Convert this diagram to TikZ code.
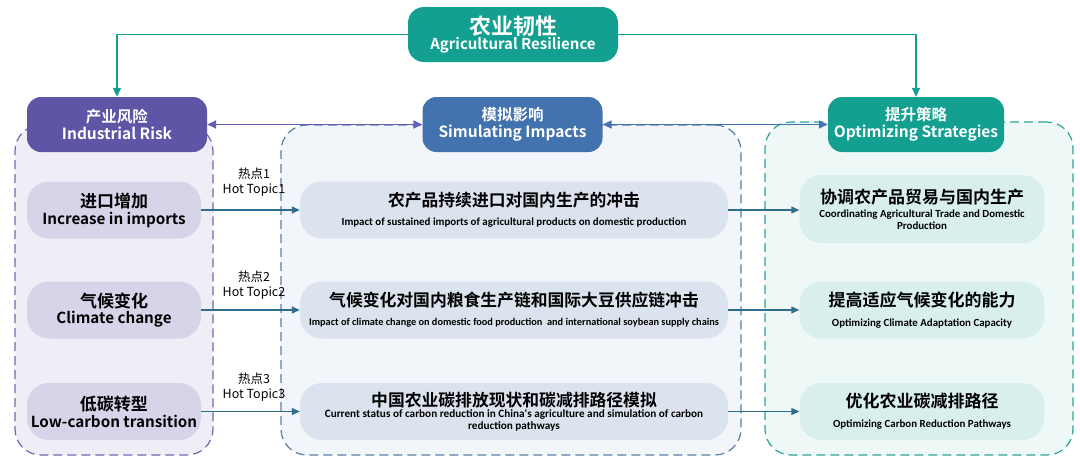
\documentclass[tikz,border=0pt]{standalone}
\usepackage{fontspec}
\setmainfont{Noto Sans CJK SC}
\newfontfamily\cjkb{Noto Sans CJK SC}[BoldFont={* Bold}]
\newfontfamily\latb{Carlito}
\usetikzlibrary{arrows.meta}
\definecolor{teal1}{HTML}{14A090}
\definecolor{purp}{HTML}{5D56A6}
\definecolor{blueh}{HTML}{4373AE}
\definecolor{rowc}{HTML}{2F6D8F}
\definecolor{lfill}{HTML}{EFEEF6}
\definecolor{mfill}{HTML}{F2F5F9}
\definecolor{rfill}{HTML}{EEF8F7}
\definecolor{ldash}{HTML}{6E69AE}
\definecolor{mdash}{HTML}{5A7FA8}
\definecolor{rdash}{HTML}{2AA597}
\definecolor{litem}{HTML}{D6D4E9}
\definecolor{mitem}{HTML}{DBE4EE}
\definecolor{ritem}{HTML}{D9EFEE}
\tikzset{
  hdr/.style={rectangle, rounded corners=14pt, minimum width=180pt, minimum height=55pt, text=white, align=center, inner sep=2pt},
  cont/.style={rectangle, rounded corners=26pt, dashed, dash pattern=on 9pt off 5pt, line width=1.2pt},
  item/.style={rectangle, rounded corners=22pt, minimum height=57pt, align=center, inner sep=2pt},
  rowarr/.style={draw=rowc, line width=1.1pt, -{Triangle[length=8pt,width=7pt]}},
  toparr/.style={draw=teal1, line width=1.5pt, -{Triangle[length=9pt,width=8pt]}},
  dbl/.style={line width=1.5pt, {Triangle[length=9pt,width=8pt]}-{Triangle[length=9pt,width=8pt]}},
  hot/.style={align=center, font=\fontsize{12.5}{15.5}\selectfont, inner sep=0pt}
}
\begin{document}
\begin{tikzpicture}[x=1pt,y=-1pt]
\useasboundingbox[fill=white] (0,0) rectangle (1080,466);
% containers
\node[cont, draw=ldash, fill=lfill, minimum width=198pt, minimum height=330pt] (cl) at (114,290) {};
\node[cont, draw=mdash, fill=mfill, minimum width=460pt, minimum height=330pt] (cm) at (511,290) {};
\node[cont, draw=rdash, fill=rfill, minimum width=308pt, minimum height=333pt] (cr) at (919,288.5) {};
% top
\node[hdr, fill=teal1, minimum width=210pt, minimum height=55pt, rounded corners=16pt] (top) at (513,34.5)
 {{\cjkb\bfseries\fontsize{22}{24}\selectfont 农业韧性}\\[-1pt]{\cjkb\bfseries\fontsize{15}{17}\selectfont Agricultural Resilience}};
% headers
\node[hdr, fill=purp] (risk) at (117,124.5) {{\cjkb\bfseries\fontsize{15.5}{18}\selectfont 产业风险}\\[2pt]{\cjkb\bfseries\fontsize{15.5}{19}\selectfont Industrial Risk}};
\node[hdr, fill=blueh] (sim) at (512.5,124.5) {{\cjkb\bfseries\fontsize{15.5}{18}\selectfont 模拟影响}\\[2pt]{\cjkb\bfseries\fontsize{15.5}{19}\selectfont Simulating Impacts}};
\node[hdr, fill=teal1, minimum width=176pt] (strat) at (916,124.5) {{\cjkb\bfseries\fontsize{15.5}{18}\selectfont 提升策略}\\[2pt]{\cjkb\bfseries\fontsize{15.5}{19}\selectfont Optimizing Strategies}};
\draw[toparr] (top.west) -| (risk.north);
\draw[toparr] (top.east) -| (strat.north);
\draw[dbl, draw=ldash!90!blue] (risk.east) -- (sim.west);
\draw[dbl, draw=blueh] (sim.east) -- (strat.west);
% left items
\node[item, fill=litem, minimum width=174pt] (l1) at (114,210) {{\cjkb\bfseries\fontsize{17}{20}\selectfont 进口增加}\\[2pt]{\cjkb\bfseries\fontsize{15.2}{19}\selectfont Increase in imports}};
\node[item, fill=litem, minimum width=174pt] (l2) at (114,310) {{\cjkb\bfseries\fontsize{17}{20}\selectfont 气候变化}\\[2pt]{\cjkb\bfseries\fontsize{15.2}{19}\selectfont Climate change}};
\node[item, fill=litem, minimum width=174pt] (l3) at (114,411.5) {{\cjkb\bfseries\fontsize{17}{20}\selectfont 低碳转型}\\[2pt]{\cjkb\bfseries\fontsize{15.2}{19}\selectfont Low-carbon transition}};
% middle items
\node[item, fill=mitem, minimum width=428pt] (m1) at (514,210) {{\cjkb\bfseries\fontsize{16.8}{19}\selectfont 农产品持续进口对国内生产的冲击}\\[7pt]{\latb\bfseries\fontsize{10.9}{12}\selectfont Impact of sustained imports of agricultural products on domestic production}};
\node[item, fill=mitem, minimum width=428pt] (m2) at (514,310) {{\cjkb\bfseries\fontsize{16.8}{19}\selectfont 气候变化对国内粮食生产链和国际大豆供应链冲击}\\[7pt]{\latb\bfseries\fontsize{10.3}{12}\selectfont Impact of climate change on domestic food production\ \ and international soybean supply chains}};
\node[item, fill=mitem, minimum width=428pt] (m3) at (514,411.5) {{\cjkb\bfseries\fontsize{16.8}{19}\selectfont 中国农业碳排放现状和碳减排路径模拟}\\[-1pt]{\latb\bfseries\fontsize{11.2}{14}\selectfont Current status of carbon reduction in China's agriculture and simulation of carbon}\\{\latb\bfseries\fontsize{11.2}{15}\selectfont reduction pathways}};
% right items
\node[item, fill=ritem, minimum width=245pt, minimum height=68pt] (r1) at (922,209) {{\cjkb\bfseries\fontsize{17}{19}\selectfont 协调农产品贸易与国内生产}\\[2pt]{\latb\bfseries\fontsize{10.9}{14}\selectfont Coordinating Agricultural Trade and Domestic}\\{\latb\bfseries\fontsize{10.9}{15}\selectfont Production}};
\node[item, fill=ritem, minimum width=245pt] (r2) at (922,310) {{\cjkb\bfseries\fontsize{17}{19}\selectfont 提高适应气候变化的能力}\\[8pt]{\latb\bfseries\fontsize{10.9}{12}\selectfont Optimizing Climate Adaptation Capacity}};
\node[item, fill=ritem, minimum width=245pt] (r3) at (922,411.5) {{\cjkb\bfseries\fontsize{17}{19}\selectfont 优化农业碳减排路径}\\[8pt]{\latb\bfseries\fontsize{10.9}{12}\selectfont Optimizing Carbon Reduction Pathways}};
% row arrows
\draw[rowarr] (l1.east) -- (m1.west);
\draw[rowarr] (l2.east) -- (m2.west);
\draw[rowarr] (l3.east) -- (m3.west);
\draw[rowarr] (m1.east) -- (m1.east -| r1.west);
\draw[rowarr] (m2.east) -- (r2.west);
\draw[rowarr] (m3.east) -- (r3.west);
% hot topics
\node[hot] (h1) at (254,182) {热点1\\Hot Topic1};
\node[hot] (h2) at (254,285) {热点2\\Hot Topic2};
\node[hot] (h3) at (254,387) {热点3\\Hot Topic3};
\end{tikzpicture}
\end{document}
